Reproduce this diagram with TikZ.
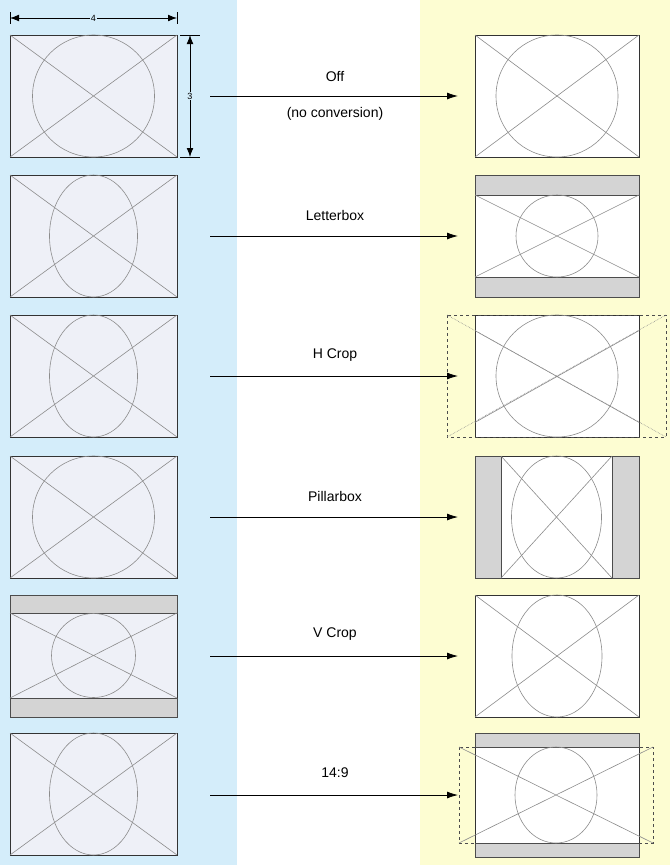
\documentclass[tikz,border=0pt]{standalone}
\usepackage{fontspec}
\setmainfont{Liberation Sans}
\usetikzlibrary{arrows.meta}
\definecolor{leftbg}{HTML}{D4EDFA}
\definecolor{rightbg}{HTML}{FDFDD2}
\definecolor{framefill}{HTML}{EEF0F7}
\definecolor{bargray}{HTML}{D4D4D4}
\begin{document}
\begin{tikzpicture}
[x=1pt,y=-1pt,
 frame/.style={draw=black!80,thick},
 cross/.style={draw=black!45,semithick},
 bar/.style={fill=bargray,draw=black!70},
 crop/.style={draw=black!70,thick,dashed},
 conv/.style={-{Latex[length=11pt,width=7pt]},thick},
 label/.style={font=\fontsize{14}{16}\selectfont},
 dimlabel/.style={fill=leftbg,inner sep=1pt,font=\fontsize{9}{10}\selectfont},
 dim/.style={{Latex[length=9pt]}-{Latex[length=9pt]},thick}]
\useasboundingbox (0,0) rectangle (670,865);
\fill[leftbg] (0,0) rectangle (237,865);
\fill[rightbg] (420,0) rectangle (670,865);
% dimensions
\draw (10,12) -- (10,24) (177,12) -- (177,24);
\draw (180,35) -- (200,35) (180,157) -- (200,157);
\draw[dim] (10,18) -- node[dimlabel] (w) {4} (177,18);
\draw[dim] (190,35) -- node[dimlabel] (h) {3} (190,157);
% left column
\foreach \t/\rx/\ry in {35/61/61,175/44/61,315/44/61,456/61/61,733/44/61}{
  \draw[frame,fill=framefill] (10,\t) rectangle +(167,122);
  \draw[cross] (10,\t) -- +(167,122) (177,\t) -- +(-167,122);
  \draw[cross] (93.5,\t+61) ellipse[x radius=\rx,y radius=\ry];
}
\draw[frame,fill=framefill] (10,595) rectangle (177,717);
\draw[bar] (10,595) rectangle (177,613);
\draw[bar] (10,698) rectangle (177,717);
\draw[cross] (10,613) -- (177,698) (177,613) -- (10,698);
\draw[cross] (93.5,655.5) ellipse[x radius=42,y radius=42];
% right column
\draw[frame,fill=white] (475,35) rectangle (639,157);
\draw[cross] (475,35) -- (639,157) (639,35) -- (475,157);
\draw[cross] (557,96) circle[radius=61];
%
\draw[frame,fill=white] (475,175) rectangle (639,297);
\draw[bar] (475,175) rectangle (639,195);
\draw[bar] (475,277) rectangle (639,297);
\draw[cross] (475,195) -- (639,277) (639,195) -- (475,277);
\draw[cross] (557,236) circle[radius=41];
%
\draw[frame,fill=white] (475,315) rectangle (639,437);
\draw[crop] (447,315) rectangle (666,437);
\draw[cross,densely dotted] (447,315) -- (666,437) (666,315) -- (447,437);
\draw[cross] (475,330.6) -- (639,422.4) (639,330.6) -- (475,422.4);
\draw[cross] (557,376) circle[radius=61];
%
\draw[frame,fill=white] (475,456) rectangle (639,578);
\draw[bar] (475,456) rectangle (501,578);
\draw[bar] (612,456) rectangle (639,578);
\draw[cross] (501,456) -- (612,578) (612,456) -- (501,578);
\draw[cross] (556.5,517) ellipse[x radius=45,y radius=61];
%
\draw[frame,fill=white] (475,595) rectangle (639,717);
\draw[cross] (475,595) -- (639,717) (639,595) -- (475,717);
\draw[cross] (557,656) ellipse[x radius=45,y radius=61];
%
\draw[frame,fill=white] (475,733) rectangle (639,857);
\draw[bar] (475,733) rectangle (639,747);
\draw[bar] (475,843) rectangle (639,857);
\draw[crop] (459,747) rectangle (653,843);
\draw[cross] (459,747) -- (653,843) (653,747) -- (459,843);
\draw[cross] (556,795) ellipse[x radius=41,y radius=48];
% arrows
\coordinate (s1) at (210,96);  \coordinate (e1) at (458,96);
\coordinate (s2) at (210,236); \coordinate (e2) at (458,236);
\coordinate (s3) at (210,376); \coordinate (e3) at (458,376);
\coordinate (s4) at (210,517); \coordinate (e4) at (458,517);
\coordinate (s5) at (210,656); \coordinate (e5) at (458,656);
\coordinate (s6) at (210,795); \coordinate (e6) at (458,795);
\draw[conv] (s1) -- (e1);
\draw[conv] (s2) -- (e2);
\draw[conv] (s3) -- (e3);
\draw[conv] (s4) -- (e4);
\draw[conv] (s5) -- (e5);
\draw[conv] (s6) -- (e6);
\node[label] (off) at (335,76) {Off};
\node[label] (noconv) at (335,114) {(no conversion)};
\node[label] (lbox) at (335,215) {Letterbox};
\node[label] (hcrop) at (335,355) {H Crop};
\node[label] (pbox) at (335,496) {Pillarbox};
\node[label] (vcrop) at (335,634) {V Crop};
\node[label] (fourteen) at (335,773) {14:9};
\end{tikzpicture}
\end{document}
